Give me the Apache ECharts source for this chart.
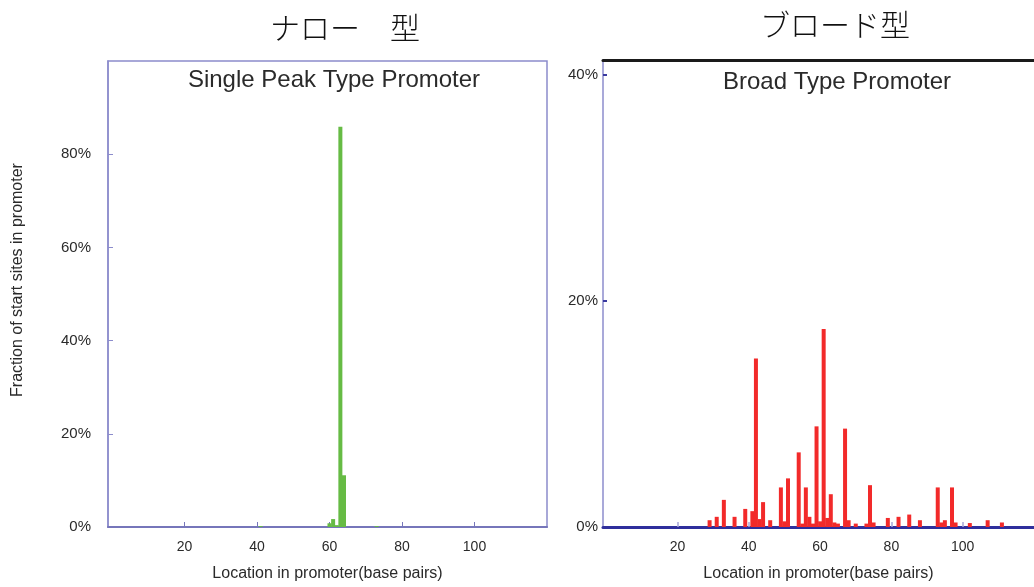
<!DOCTYPE html>
<html>
<head>
<meta charset="utf-8">
<title>Promoter start sites</title>
<script src="https://cdn.jsdelivr.net/npm/echarts@6/dist/echarts.min.js"></script>
<style>
    html, body { margin: 0; padding: 0; background: #fff; }
    #chart { width: 1034px; height: 587px; }
</style>
</head>
<body>
<div id="chart"></div>
<script>
    // ナロー型 (single peak): location in promoter (bp) -> fraction of start sites (%)
    const narrowPos = [41, 60, 61, 62, 63, 64, 73];
    const narrowVal = [0.2, 0.8, 1.7, 0.4, 85.9, 11.1, 0.2];

    // ブロード型 (broad)
    const broadPos = [29, 31, 33, 36, 39, 41, 42, 43, 44, 46, 49, 50, 51, 54, 55,
        56, 57, 58, 59, 60, 61, 62, 63, 64, 65, 67, 68, 70, 73, 74,
        75, 79, 82, 85, 88, 93, 94, 95, 97, 98, 102, 107, 111];
    const broadVal = [0.6, 0.9, 2.4, 0.9, 1.6, 1.4, 14.9, 0.7, 2.2, 0.6, 3.5, 0.5, 4.3, 6.6, 0.3,
        3.5, 0.9, 0.3, 8.9, 0.5, 17.5, 0.8, 2.9, 0.4, 0.3, 8.7, 0.6, 0.3, 0.3, 3.7,
        0.4, 0.8, 0.9, 1.1, 0.6, 3.5, 0.4, 0.6, 3.5, 0.4, 0.35, 0.6, 0.4];

    const xTicks = [20, 40, 60, 80, 100];
    const narrowYTicks = [0, 20, 40, 60, 80];
    const broadYTicks = [0, 20, 40];

    const panelTitles = ['ナロー　型', 'ブロード型'];
    const chartTitles = ['Single Peak Type Promoter', 'Broad Type Promoter'];
    const xName = 'Location in promoter(base pairs)';
    const yName = 'Fraction of start sites in promoter';

    const latin = '"Liberation Sans", Arial, sans-serif';
    const textColor = '#2a2a2a';

    let myChart = echarts.init(document.getElementById('chart'));

    let pairs = (xs, ys) => xs.map((x, i) => [x, ys[i]]);

    let option = {
        backgroundColor: '#fff',
        animation: false,
        grid: [
            {left: 108, top: 61, width: 439, height: 466, show: true, borderColor: '#8c8ccc', borderWidth: 1.5},
            {left: 603, top: 60, width: 443, height: 468}
        ],
        xAxis: [
            {
                type: 'value', gridIndex: 0, min: -1.1, max: 120,
                splitLine: {show: false},
                axisLine: {onZero: false, lineStyle: {color: '#7676ba', width: 2}},
                axisTick: {inside: true, length: 5, customValues: xTicks, lineStyle: {color: '#7676ba'}},
                axisLabel: {customValues: xTicks, margin: 13, fontSize: 14, fontFamily: latin, color: textColor},
                name: xName, nameLocation: 'middle', nameGap: 39,
                nameTextStyle: {fontSize: 16, fontFamily: latin, color: textColor}
            },
            {
                type: 'value', gridIndex: 1, min: -0.9, max: 120,
                splitLine: {show: false},
                axisLine: {onZero: false, lineStyle: {color: '#2f2f9c', width: 3}},
                axisTick: {inside: true, length: 5, customValues: xTicks, lineStyle: {color: '#a6a6d8', width: 1.5}},
                axisLabel: {customValues: xTicks, margin: 13, fontSize: 14, fontFamily: latin, color: textColor},
                name: xName, nameLocation: 'middle', nameGap: 39,
                nameTextStyle: {fontSize: 16, fontFamily: latin, color: textColor}
            },
            {
                // black frame line on top of the broad panel
                type: 'value', gridIndex: 1, min: -0.9, max: 120, position: 'top',
                splitLine: {show: false},
                axisLine: {onZero: false, lineStyle: {color: '#1a1a1a', width: 3}},
                axisTick: {show: false},
                axisLabel: {show: false}
            }
        ],
        yAxis: [
            {
                type: 'value', gridIndex: 0, min: 0, max: 100,
                splitLine: {show: false},
                axisLine: {onZero: false, lineStyle: {color: '#8c8ccc', width: 1.5}},
                axisTick: {inside: true, length: 5, customValues: [20, 40, 60, 80], lineStyle: {color: '#8c8ccc'}},
                axisLabel: {customValues: narrowYTicks, formatter: '{value}%', margin: 17, fontSize: 15, fontFamily: latin, color: textColor}
            },
            {
                type: 'value', gridIndex: 1, min: 0, max: 41.3,
                splitLine: {show: false},
                axisLine: {onZero: false, lineStyle: {color: '#8c8ccc', width: 1.5}},
                axisTick: {inside: true, length: 4, customValues: [20, 40], lineStyle: {color: '#3a3aa0', width: 2}},
                axisLabel: {customValues: broadYTicks, formatter: '{value}%', margin: 5, fontSize: 15, fontFamily: latin, color: textColor}
            }
        ],
        graphic: [
            {type: 'text', x: 345, y: 28, style: {text: panelTitles[0], fontFamily: '"Noto Sans CJK JP"', fontSize: 30, fontWeight: 300, fill: '#111', align: 'center', verticalAlign: 'middle'}},
            {type: 'text', x: 835, y: 25, style: {text: panelTitles[1], fontFamily: '"Noto Sans CJK JP"', fontSize: 30, fontWeight: 300, fill: '#111', align: 'center', verticalAlign: 'middle'}},
            {type: 'text', x: 334, y: 80, style: {text: chartTitles[0], fontFamily: latin, fontSize: 24, fill: textColor, align: 'center', verticalAlign: 'middle'}},
            {type: 'text', x: 837, y: 82, style: {text: chartTitles[1], fontFamily: latin, fontSize: 24, fill: textColor, align: 'center', verticalAlign: 'middle'}},
            {type: 'text', x: 18, y: 280, rotation: Math.PI / 2, style: {text: yName, fontFamily: latin, fontSize: 16, fill: textColor, align: 'center', verticalAlign: 'middle'}}
        ],
        series: [
            {
                name: 'narrow', type: 'bar', xAxisIndex: 0, yAxisIndex: 0,
                barWidth: 4,
                itemStyle: {color: '#66bb44'},
                data: pairs(narrowPos, narrowVal)
            },
            {
                name: 'broad', type: 'bar', xAxisIndex: 1, yAxisIndex: 1,
                barWidth: 4,
                itemStyle: {color: '#f22a2a'},
                data: pairs(broadPos, broadVal)
            }
        ]
    };
    myChart.setOption(option);
</script>
</body>
</html>
